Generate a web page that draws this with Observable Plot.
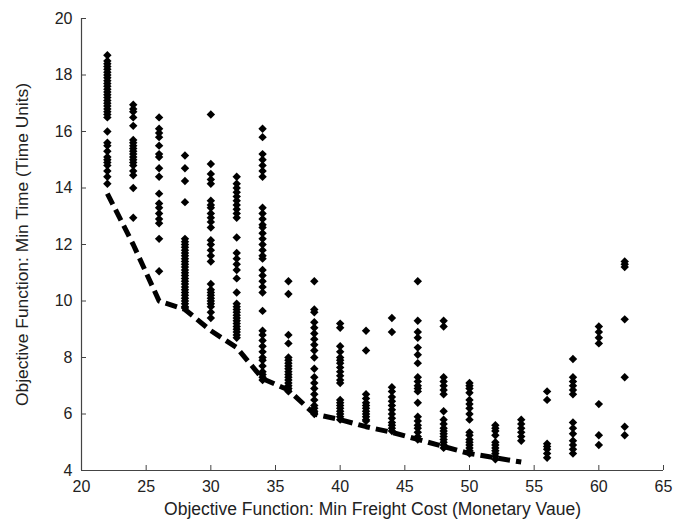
<!DOCTYPE html>
<html>
<head>
<meta charset="utf-8">
<script src="https://cdn.jsdelivr.net/npm/d3@7"></script>
<script src="https://cdn.jsdelivr.net/npm/@observablehq/plot@0.6"></script>
<style>
  html, body { margin: 0; padding: 0; background: #fff; }
  #chart { width: 684px; height: 526px; }
</style>
</head>
<body>
<div id="chart"></div>
<script>
// Freight cost levels (x) and observed times (y) at each level
const costLevels = [22, 24, 26, 28, 30, 32, 34, 36, 38, 40, 42, 44, 46, 48, 50, 52, 54, 56, 58, 60, 62];
const timesByCost = [
  [18.7, 18.5, 18.4, 18.3, 18.2, 18.1, 18.0, 17.9, 17.8, 17.7, 17.6, 17.5, 17.4, 17.3, 17.2, 17.1, 17.0, 16.9, 16.8, 16.7, 16.6, 16.5, 16.0, 15.6, 15.5, 15.3, 15.1, 15.0, 14.9, 14.8, 14.6, 14.4, 14.15],
  [16.95, 16.8, 16.7, 16.5, 16.2, 15.7, 15.6, 15.5, 15.4, 15.3, 15.2, 15.1, 15.0, 14.9, 14.8, 14.6, 14.45, 14.0, 12.95],
  [16.5, 16.1, 15.95, 15.8, 15.5, 15.2, 15.1, 14.7, 14.4, 13.8, 13.45, 13.3, 13.1, 12.9, 12.75, 12.2, 11.05],
  [15.15, 14.7, 14.25, 13.5, 12.2, 12.1, 12.0, 11.9, 11.8, 11.7, 11.6, 11.5, 11.4, 11.3, 11.2, 11.1, 11.0, 10.9, 10.8, 10.7, 10.6, 10.5, 10.4, 10.3, 10.2, 10.1, 10.0, 9.9, 9.8, 9.75],
  [16.6, 14.85, 14.5, 14.3, 14.15, 13.55, 13.4, 13.3, 13.1, 12.95, 12.8, 12.6, 12.15, 12.0, 11.8, 11.6, 11.4, 10.6, 10.4, 10.3, 10.2, 10.1, 10.0, 9.9, 9.8, 9.6, 9.4],
  [14.4, 14.15, 14.0, 13.85, 13.7, 13.55, 13.4, 13.25, 13.1, 12.95, 12.25, 11.7, 11.5, 11.3, 11.1, 10.8, 10.3, 9.9, 9.8, 9.7, 9.6, 9.5, 9.4, 9.3, 9.2, 9.1, 9.0, 8.9, 8.8, 8.7],
  [16.1, 15.8, 15.2, 15.0, 14.8, 14.6, 14.4, 13.3, 13.1, 12.9, 12.7, 12.6, 12.4, 12.2, 12.0, 11.8, 11.6, 11.5, 11.1, 10.9, 10.7, 10.5, 10.3, 9.65, 8.95, 8.8, 8.6, 8.4, 8.2, 8.0, 7.9, 7.7, 7.5, 7.4, 7.3, 7.2],
  [10.7, 10.25, 8.8, 8.5, 8.0, 7.9, 7.8, 7.7, 7.6, 7.5, 7.4, 7.3, 7.2, 7.1, 7.0, 6.9, 6.8],
  [10.7, 9.7, 9.6, 9.25, 9.05, 8.85, 8.65, 8.45, 8.25, 8.0, 7.6, 7.3, 7.1, 6.9, 6.7, 6.5, 6.3, 6.2, 6.1, 6.0],
  [9.2, 9.05, 8.4, 8.2, 8.0, 7.9, 7.8, 7.65, 7.5, 7.35, 7.2, 7.1, 6.5, 6.4, 6.3, 6.2, 6.1, 6.0, 5.9, 5.8],
  [8.95, 8.25, 6.7, 6.55, 6.4, 6.3, 6.2, 6.1, 6.0, 5.9, 5.8, 5.75],
  [9.4, 8.9, 6.95, 6.8, 6.6, 6.45, 6.3, 6.15, 6.0, 5.85, 5.7, 5.6, 5.5, 5.4],
  [10.7, 9.3, 8.9, 8.7, 8.35, 8.1, 7.8, 7.3, 7.15, 7.0, 6.9, 6.8, 6.4, 5.9, 5.75, 5.6, 5.5, 5.35, 5.2, 5.1],
  [9.3, 9.1, 7.3, 7.15, 7.0, 6.85, 6.7, 6.1, 5.8, 5.65, 5.5, 5.4, 5.3, 5.2, 5.1, 5.0, 4.9, 4.8],
  [7.1, 7.0, 6.9, 6.75, 6.5, 6.35, 6.2, 6.0, 5.8, 5.35, 5.25, 5.1, 5.0, 4.9, 4.8, 4.7, 4.6],
  [5.6, 5.5, 5.4, 5.25, 5.0, 4.9, 4.8, 4.7, 4.6, 4.5, 4.4],
  [5.8, 5.65, 5.5, 5.35, 5.2, 5.05],
  [6.8, 6.5, 4.95, 4.85, 4.75, 4.6, 4.45],
  [7.95, 7.3, 7.15, 7.0, 6.85, 6.7, 5.7, 5.5, 5.3, 5.05, 4.9, 4.75, 4.6],
  [9.1, 8.9, 8.7, 8.5, 6.35, 5.25, 4.9],
  [11.4, 11.3, 11.2, 9.35, 7.3, 5.55, 5.25]
];

// Pareto front (dashed line)
const frontCost = [22, 24, 26, 28, 30, 32, 34, 36, 38, 40, 42, 44, 46, 48, 50, 52, 54];
const frontTime = [13.8, 12.0, 10.0, 9.7, 8.95, 8.35, 7.25, 6.85, 6.0, 5.8, 5.55, 5.35, 5.1, 4.85, 4.6, 4.45, 4.3];

const xTicks = [20, 25, 30, 35, 40, 45, 50, 55, 60, 65];
const yTicks = [4, 6, 8, 10, 12, 14, 16, 18, 20];
const xTitle = "Objective Function: Min Freight Cost (Monetary Vaue)";
const yTitle = "Objective Function: Min Time (Time Units)";

const points = costLevels.flatMap((c, i) => timesByCost[i].map(t => ({cost: c, time: t})));
const front = frontCost.map((c, i) => ({cost: c, time: frontTime[i]}));

const chart = Plot.plot({
  width: 684,
  height: 526,
  marginLeft: 81,
  marginRight: 21,
  marginTop: 18,
  marginBottom: 56,
  style: {fontFamily: "'Liberation Sans', Arial, sans-serif", fontSize: "16px", color: "#222", background: "#fff"},
  x: {domain: [20, 65]},
  y: {domain: [4, 20]},
  marks: [
    Plot.axisX({ticks: xTicks, tickSize: -5, tickPadding: 15, tickFormat: d => String(d), label: null, stroke: "#444", fill: "#222", fontSize: 16}),
    Plot.axisY({ticks: yTicks, tickSize: -5, tickPadding: 14, tickFormat: d => String(d), label: null, stroke: "#444", fill: "#222", fontSize: 16}),
    Plot.ruleX([20], {stroke: "#444", strokeWidth: 1.2}),
    Plot.ruleY([4], {stroke: "#444", strokeWidth: 1.2}),
    Plot.line(front, {x: "cost", y: "time", stroke: "#000", strokeWidth: 5, strokeDasharray: "12,6", strokeLinecap: "butt"}),
    Plot.dot(points, {x: "cost", y: "time", symbol: "diamond2", r: 3.8, fill: "#000", stroke: "none"}),
    Plot.text([xTitle], {frameAnchor: "bottom", dy: 44, text: d => d, fill: "#222", fontSize: 17.5, textAnchor: "middle"}),
    Plot.text([yTitle], {frameAnchor: "left", dx: -59, rotate: -90, text: d => d, fill: "#222", fontSize: 17.4, textAnchor: "middle"})
  ]
});
document.getElementById("chart").appendChild(chart);
</script>
</body>
</html>
